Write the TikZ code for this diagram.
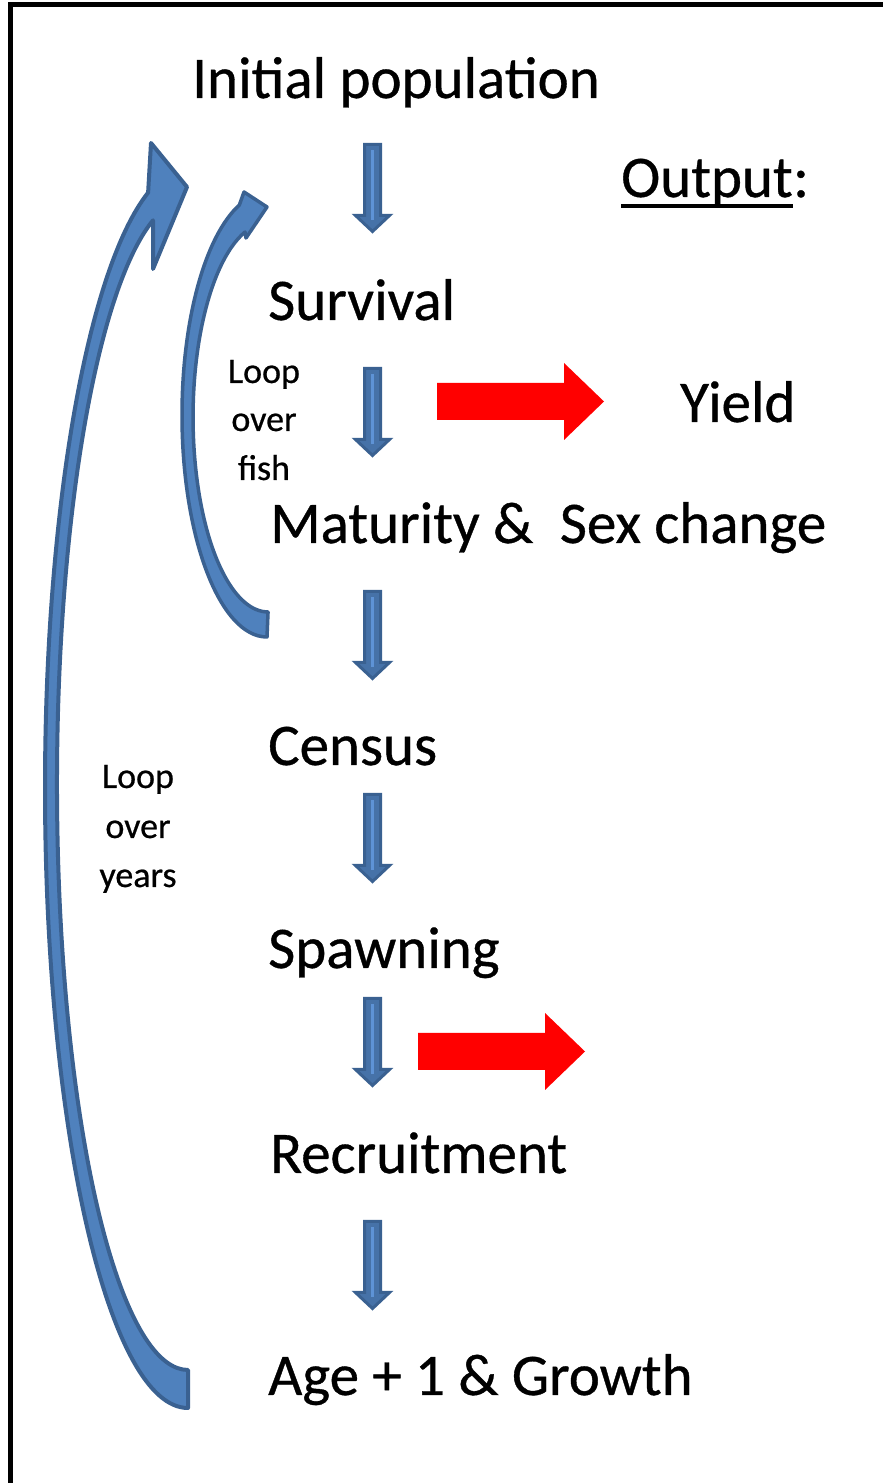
\documentclass[tikz,border=0pt]{standalone}
\usepackage{fontspec}
\setmainfont{Carlito}
\newfontface\heavyface{Carlito}[FakeBold=0.6]
\definecolor{arrowblue}{HTML}{4F81BD}
\definecolor{arrowedge}{HTML}{3A6191}
\definecolor{downblue}{HTML}{4672A8}
\definecolor{stripeblue}{HTML}{5E93D6}
\definecolor{outred}{HTML}{FF0000}
\tikzset{
  bigtext/.style={font=\heavyface\fontsize{59}{70}\selectfont, inner sep=0pt, anchor=base west},
  smalltext/.style={font=\heavyface\fontsize{36}{44}\selectfont, inner sep=0pt, anchor=base},
  curvefill/.style={fill=arrowblue, draw=arrowedge, line width=4pt, line join=round},
  downfill/.style={fill=downblue, draw=arrowedge, line width=3pt, line join=miter},
  redfill/.style={fill=outred},
  downarr/.pic={
    \filldraw[downfill] (-8,0) -- (8,0) -- (8,-71) -- (17,-71) -- (0,-87) -- (-17,-71) -- (-8,-71) -- cycle;
    \draw[stripeblue, line width=3pt] (0,-6) -- (0,-76);
  },
  redarr/.pic={
    \fill[redfill] (0,18.5) -- (127,18.5) -- (127,38.5) -- (167,0) -- (127,-38.5) -- (127,-18.5) -- (0,-18.5) -- cycle;
  }
}
\begin{document}
\begin{tikzpicture}[x=1pt,y=1pt]
\useasboundingbox (0,0) rectangle (883,1483);
% frame (top and left edges)
\coordinate (fbl) at (10,0);
\coordinate (ftl) at (10,1478.5);
\coordinate (ftr) at (883,1478.5);
\draw[line width=5pt] (fbl) -- (ftl) -- (ftr);

% texts
\node[bigtext] (init) at (192,1385) {Initial population};
\node[bigtext] (outw) at (621,1286) {Output};
\node[bigtext] (outc) at (outw.base east) {:};
\draw[line width=4pt] ([yshift=-9pt]outw.base west) -- ([yshift=-9pt]outw.base east);
\node[bigtext] (surv) at (268,1163) {Survival};
\node[bigtext] (yield) at (680,1061) {Yield};
\node[bigtext] (mat) at (270,940) {Maturity \&\ \ Sex change};
\node[bigtext] (cens) at (268,718) {Census};
\node[bigtext] (spawn) at (268,515) {Spawning};
\node[bigtext] (recr) at (270,310) {Recruitment};
\node[bigtext] (age) at (268,88) {Age + 1 \& Growth};

\node[smalltext] (f1) at (264,1100) {Loop};
\node[smalltext] (f2) at (264,1052) {over};
\node[smalltext] (f3) at (264,1003) {fish};
\node[smalltext] (y1) at (138,695) {Loop};
\node[smalltext] (y2) at (138,645) {over};
\node[smalltext] (y3) at (138,596) {years};

% down arrows between steps
\pic at (372.5,1338.5) {downarr};
\pic at (372.5,1114.5) {downarr};
\pic at (372.5,891.5) {downarr};
\pic at (372.5,688.5) {downarr};
\pic at (372.5,484.5) {downarr};
\pic at (372.5,261.5) {downarr};

% red output arrows
\pic at (437,1081.5) {redarr};
\pic at (418,431.5) {redarr};

% loop over years (big curved arrow)
\filldraw[curvefill] (188,75) arc[start angle=-90, end angle=-253.8, x radius=143, y radius=620]
  -- (151,1340) -- (187,1296) -- (153,1214) -- (153,1262.7)
  arc[start angle=105.5, end angle=270, x radius=131, y radius=585.5] -- cycle;

% loop over fish (small curved arrow)
\filldraw[curvefill, line width=3.5pt] (267,846) arc[start angle=-90, end angle=-251, x radius=85, y radius=222]
  -- (244,1291) -- (267,1276) -- (246,1245) -- (245,1251)
  arc[start angle=107.9, end angle=270, x radius=75, y radius=194.7] -- cycle;
\end{tikzpicture}
\end{document}
